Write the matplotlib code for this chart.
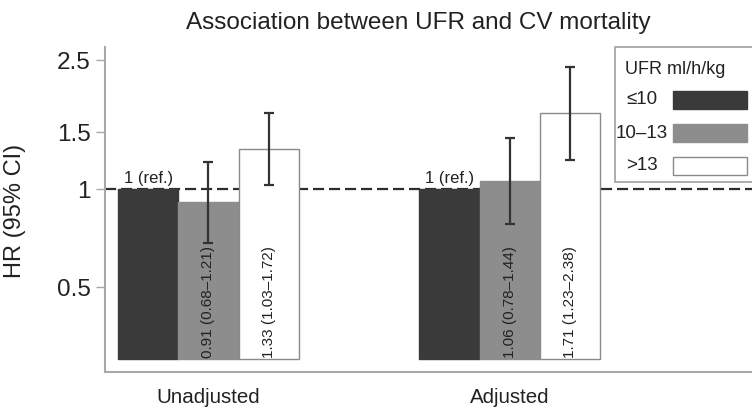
import matplotlib
matplotlib.use("Agg")
import matplotlib.pyplot as plt
from matplotlib.patches import Rectangle
import numpy as np

plt.rcParams['font.family'] = ['Liberation Sans', 'DejaVu Sans']

# ---- data ----
groups = ["Unadjusted", "Adjusted"]
ufr_categories = ["\u226410", "10\u201313", ">13"]
hr_ref = [1.0, 1.0]
hr_mid = [0.91, 1.06]
ci_mid_low = [0.68, 0.78]
ci_mid_high = [1.21, 1.44]
hr_high = [1.33, 1.71]
ci_high_low = [1.03, 1.23]
ci_high_high = [1.72, 2.38]
yticks = [0.5, 1, 1.5, 2.5]
ytick_labels = ["0.5", "1", "1.5", "2.5"]

colors = ["#3a3a3a", "#8d8d8d", "#ffffff"]
edges = ["#3a3a3a", "#8d8d8d", "#8a8a8a"]
txt = "#222222"
base = 0.3

W, H = 752, 414
fig = plt.figure(figsize=(W / 100, H / 100), dpi=100)
fig.patch.set_facecolor("white")
ax = fig.add_axes([105 / W, 1 - 373 / H, (W - 105) / W, (373 - 48) / H])

x = np.arange(len(groups))
width = 0.2
offsets = [-0.2, 0.0, 0.2]

ax.set_yscale("log")
ax.set_ylim(0.2727, 2.738)
ax.set_xlim(-0.343, 1.803)

# reference dashed line
ax.axhline(1.0, color="#2e2e2e", lw=1.6, ls=(0, (5, 2.2)), zorder=1)

series = [hr_ref, hr_mid, hr_high]
for i, vals in enumerate(series):
    ax.bar(x + offsets[i], np.array(vals) - base, bottom=base, width=width,
           color=colors[i], edgecolor=edges[i], linewidth=1.0, zorder=2)

# error bars
for vals, lo, hi, off in [(hr_mid, ci_mid_low, ci_mid_high, offsets[1]),
                          (hr_high, ci_high_low, ci_high_high, offsets[2])]:
    vals = np.array(vals)
    yerr = np.vstack([vals - np.array(lo), np.array(hi) - vals])
    ax.errorbar(x + off, vals, yerr=yerr, fmt="none", ecolor="#333333",
                elinewidth=1.6, capsize=3.5, capthick=1.6, zorder=3)

# labels
for gi in range(len(groups)):
    ax.annotate("1 (ref.)", xy=(x[gi] + offsets[0], 1.0), xytext=(0, 3),
                textcoords="offset points", ha="center", va="bottom",
                fontsize=12, color=txt, zorder=4)
    for vals, lo, hi, off in [(hr_mid, ci_mid_low, ci_mid_high, offsets[1]),
                              (hr_high, ci_high_low, ci_high_high, offsets[2])]:
        label = f"{vals[gi]:.2f} ({lo[gi]:.2f}\u2013{hi[gi]:.2f})"
        ax.annotate(label, xy=(x[gi] + off, base), xytext=(0, 1),
                    textcoords="offset points", ha="center", va="bottom",
                    rotation=90, fontsize=11, color=txt, zorder=4)

# axes styling
for s in ["top", "right"]:
    ax.spines[s].set_visible(False)
for s in ["left", "bottom"]:
    ax.spines[s].set_color("#a8a8a8")
    ax.spines[s].set_linewidth(1.5)

ax.set_yticks(yticks)
ax.set_yticklabels(ytick_labels)
ax.yaxis.set_minor_locator(matplotlib.ticker.NullLocator())
ax.tick_params(axis="y", length=6.5, width=1, color="#a8a8a8", pad=4,
               labelsize=17.5, labelcolor=txt)
ax.set_xticks(x)
ax.set_xticklabels(groups)
ax.tick_params(axis="x", length=0, pad=11, labelsize=14.8, labelcolor=txt)

ax.set_ylabel("HR (95% CI)", fontsize=17, color=txt)
ax.yaxis.set_label_coords((26 - 105) / 647, (373 - 211) / 325)

fig.text(418 / W, 1 - 29 / H, "Association between UFR and CV mortality",
         ha="center", va="baseline", fontsize=17.5, color=txt)

# legend (manual)
def fx(px):
    return px / W

def fy(py):
    return 1 - py / H

frame = Rectangle((fx(615), fy(183)), fx(780) - fx(615), fy(48) - fy(183),
                  transform=fig.transFigure, facecolor="white",
                  edgecolor="#a0a0a0", linewidth=1.2, zorder=5)
fig.patches.append(frame)
fig.text(fx(625), fy(70), "UFR ml/h/kg", ha="left", va="center",
         fontsize=13, color=txt, zorder=6)
label_y = [100, 133, 166]
for i, lab in enumerate(ufr_categories):
    fig.text(fx(642), fy(label_y[i]), lab, ha="center", va="center",
             fontsize=13.5, color=txt, zorder=6)
    top = [92, 125, 158][i]
    r = Rectangle((fx(673), fy(top + 18)), fx(747) - fx(673), fy(top) - fy(top + 18),
                  transform=fig.transFigure, facecolor=colors[i],
                  edgecolor=edges[i], linewidth=1.0, zorder=6)
    fig.patches.append(r)

fig.savefig("out.png", dpi=100, facecolor="white")
